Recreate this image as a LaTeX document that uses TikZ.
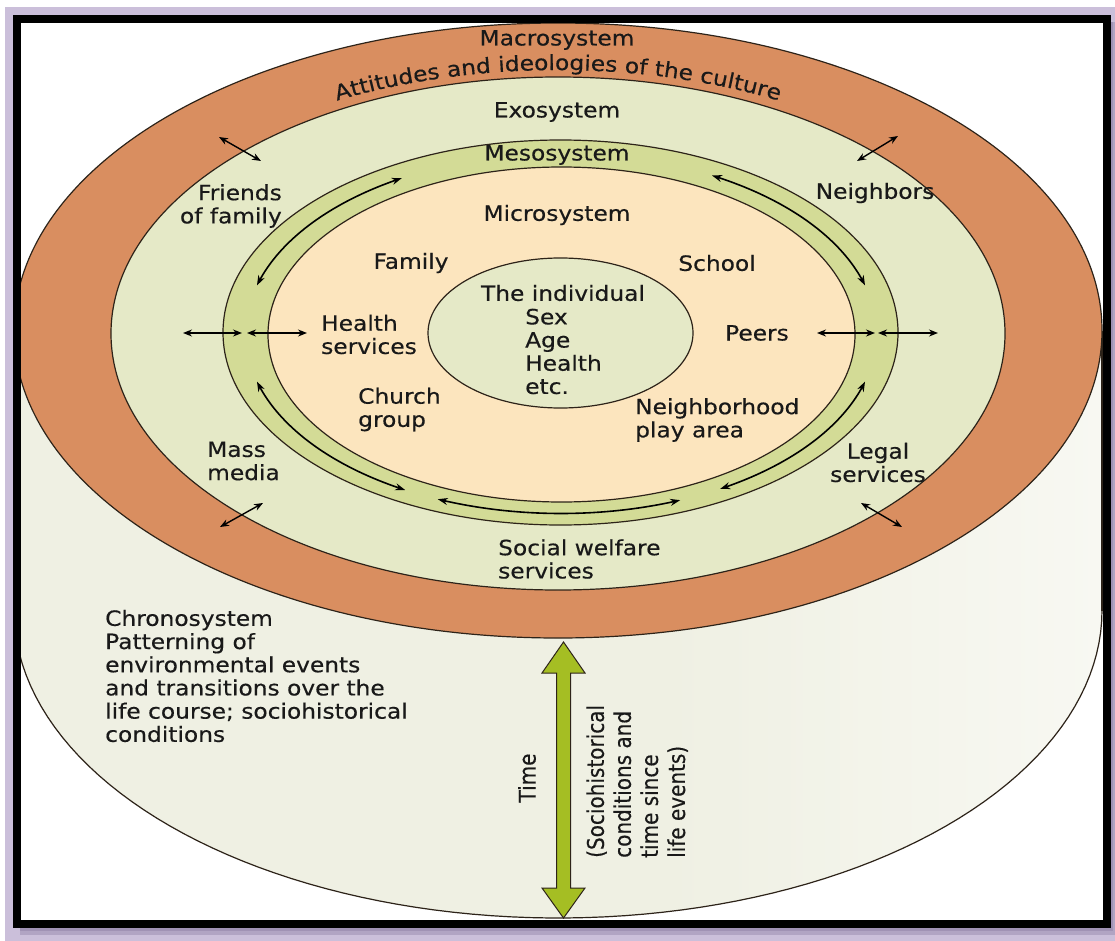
\documentclass[tikz,border=0pt]{standalone}
\usepackage{fontspec}
\setmainfont{DejaVu Sans}[FakeStretch=1.11,FakeBold=0.4]
\newfontfamily\rotfont{DejaVu Sans}[FakeBold=0.4]
\usetikzlibrary{arrows.meta,decorations.text}

\definecolor{lav}{RGB}{203,191,218}
\definecolor{lavdark}{RGB}{160,146,180}
\definecolor{orng}{RGB}{217,142,96}
\definecolor{exoc}{RGB}{229,233,199}
\definecolor{mesoc}{RGB}{211,219,150}
\definecolor{microc}{RGB}{252,229,190}
\definecolor{cylA}{RGB}{239,240,227}
\definecolor{cylB}{RGB}{234,237,222}
\definecolor{cylW}{RGB}{250,250,246}
\definecolor{timegreen}{RGB}{165,190,35}
\definecolor{edge}{RGB}{45,35,25}
\definecolor{txt}{RGB}{25,25,25}

\pgfdeclarehorizontalshading{cylshade}{100bp}{color(0bp)=(cylA); color(55bp)=(cylA); color(80bp)=(cylW); color(100bp)=(cylB)}

\begin{document}
\begin{tikzpicture}[x=1pt,y=-1pt,
  lbl/.style={font=\fontsize{21}{23.2}\selectfont, inner sep=0pt, text=txt},
  rlbl/.style={font=\rotfont\fontsize{20}{23.5}\selectfont, inner sep=0pt, text=txt, rotate=90},
  ring/.style={draw=edge, line width=1.2pt},
  dbl/.style={{Stealth[length=9pt,width=7pt]}-{Stealth[length=9pt,width=7pt]}, line width=1.4pt},
  mesoarrow/.style={{Stealth[length=10pt,width=7pt]}-{Stealth[length=10pt,width=7pt]}, line width=1.6pt},
]
\useasboundingbox (0,0) rectangle (1115,941);
% background
\fill[white] (0,0) rectangle (1115,941);
\fill[lav] (5,7) rectangle (1115,941);
% shadow
\fill[lavdark!60!lav] (20,926) rectangle (1114,935);
\fill[lavdark!60!lav] (1109,22) rectangle (1115,935);
\fill[lavdark] (20,926) rectangle (1113,931);
\fill[lavdark] (1109,22) rectangle (1113,931);
% frame interior
\fill[white] (17,19) rectangle (1107,924);

\begin{scope}
\clip (21,23) rectangle (1103,920);
% cylinder body
\shade[shading=cylshade] (14,330.5) -- (14,610.5) -- plot[domain=180:360, samples=90] ({558+544*cos(\x)},{610.5-307.5*sin(\x)}) -- (1102,330.5) -- cycle;
\draw[ring] plot[domain=180:360, samples=90] ({558+544*cos(\x)},{610.5-307.5*sin(\x)});
\draw[ring] (14,330.5) -- (14,610.5);
\draw[ring] (1102,330.5) -- (1102,610.5);
% rings
\filldraw[ring, fill=orng] (558,330.5) ellipse [x radius=544, y radius=307.5];
\filldraw[ring, fill=exoc] (558,333.5) ellipse [x radius=447, y radius=256.5];
\filldraw[ring, fill=mesoc] (560.5,332.5) ellipse [x radius=337.5, y radius=192.5];
\filldraw[ring, fill=microc] (561.5,334.5) ellipse [x radius=293.5, y radius=167.5];
\filldraw[ring, fill=exoc] (560.5,333) ellipse [x radius=132.5, y radius=75];
\end{scope}

% mesosystem arrows along the band
\draw[mesoarrow] plot[domain=164.5:120.3, samples=40] ({561+315.5*cos(\x)},{333.5-180*sin(\x)});
\draw[mesoarrow] plot[domain=61.4:15.5, samples=40] ({561+315.5*cos(\x)},{333.5-180*sin(\x)});
\draw[mesoarrow] plot[domain=195.5:240.4, samples=40] ({561+315.5*cos(\x)},{333.5-180*sin(\x)});
\draw[mesoarrow] plot[domain=344.5:300.3, samples=40] ({561+315.5*cos(\x)},{333.5-180*sin(\x)});
\draw[mesoarrow] plot[domain=247:292.2, samples=40] ({561+315.5*cos(\x)},{333.5-180*sin(\x)});

% straight double arrows
\coordinate (fa1) at (219,137); \coordinate (fa2) at (261,161);
\coordinate (na1) at (857,161); \coordinate (na2) at (898,136);
\coordinate (ma1) at (220,527); \coordinate (ma2) at (263,503);
\coordinate (la1) at (861,503); \coordinate (la2) at (902,527);
\coordinate (hl1) at (183,333); \coordinate (hl2) at (242,333);
\coordinate (hl3) at (247,333); \coordinate (hl4) at (307,333);
\coordinate (hr1) at (817,333); \coordinate (hr2) at (875,333);
\coordinate (hr3) at (878,333); \coordinate (hr4) at (938,333);
\draw[dbl] (fa1) -- (fa2);
\draw[dbl] (na1) -- (na2);
\draw[dbl] (ma1) -- (ma2);
\draw[dbl] (la1) -- (la2);
\draw[dbl] (hl1) -- (hl2);
\draw[dbl] (hl3) -- (hl4);
\draw[dbl] (hr1) -- (hr2);
\draw[dbl] (hr3) -- (hr4);

% time arrow
\filldraw[fill=timegreen, draw=edge, line width=1pt]
  (563.5,642) -- (585,673) -- (570.5,673) -- (570.5,888) -- (585,888) -- (563.5,918)
  -- (542,888) -- (556.5,888) -- (556.5,673) -- (542,673) -- cycle;

% curved text
\path[decorate, decoration={text along path, text={|\fontsize{21}{23}\selectfont\color{txt}|Attitudes and ideologies of the culture}, text align=center}]
  plot[domain=168:12, samples=120] ({558+470*cos(\x)},{331-261*sin(\x)});

% labels
\node[lbl] (macro) at (557,40) {Macrosystem};
\node[lbl] (exo) at (557,112) {Exosystem};
\node[lbl] (meso) at (557,155) {Mesosystem};
\node[lbl] (micro) at (557,215) {Microsystem};
\node[lbl, align=right, anchor=east] (friends) at (282,206) {Friends\\of family};
\node[lbl] (neigh) at (875,193) {Neighbors};
\node[lbl] (family) at (411,263) {Family};
\node[lbl] (school) at (717,263) {School};
\node[lbl] (indiv) at (563,293) {The individual};
\node[lbl, align=left, anchor=west] (sex) at (525,351.5) {Sex\\Age\\Health\\etc.};
\node[lbl, align=left, anchor=west] (health) at (321,334.5) {Health\\services};
\node[lbl] (peers) at (757,333) {Peers};
\node[lbl, align=left, anchor=west] (church) at (358,409.5) {Church\\group};
\node[lbl, align=left, anchor=west] (nbhd) at (635,420) {Neighborhood\\play area};
\node[lbl, align=left, anchor=west] (mass) at (207,461) {Mass\\media};
\node[lbl, align=center] (legal) at (878,462.5) {Legal\\services};
\node[lbl, align=left, anchor=west] (social) at (498,559) {Social welfare\\services};
\node[lbl, align=left, anchor=west] (chrono) at (105,676) {Chronosystem\\Patterning of\\environmental events\\and transitions over the\\life course; sociohistorical\\conditions};
\node[rlbl] (time) at (527,778) {\scalebox{1}[1.15]{Time}};
\node[rlbl, anchor=west] (socio) at (639,858) {\scalebox{1}[1.15]{\begin{tabular}{@{}l@{}}(Sociohistorical\\conditions and\\time since\\life events)\end{tabular}}};

% frame
\draw[line width=8pt] (17,19) rectangle (1107,924);
\end{tikzpicture}
\end{document}
